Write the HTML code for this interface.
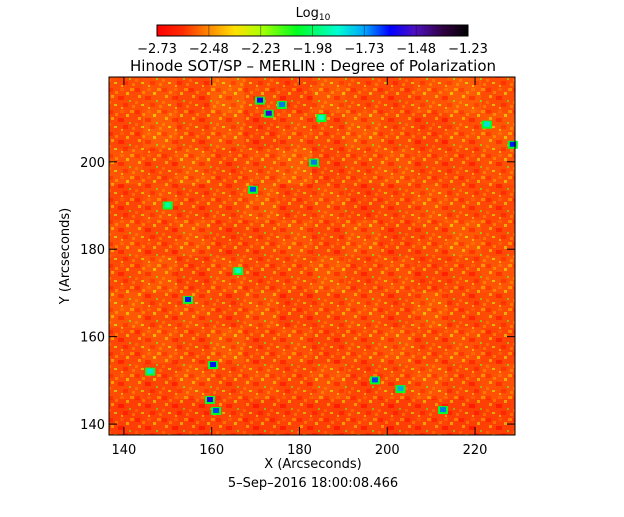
<!DOCTYPE html>
<html><head><meta charset="utf-8"><style>
body{margin:0;background:#fff;width:624px;height:512px;overflow:hidden}
text{font-family:"DejaVu Sans","Liberation Sans",sans-serif;fill:#000}
</style></head><body>
<svg id="chart" width="624" height="512">
<defs>
<linearGradient id="cb" x1="0" x2="1">
<stop offset="0" stop-color="#ff0000"/><stop offset="0.08" stop-color="#ff2a00"/><stop offset="0.17" stop-color="#ff8c00"/><stop offset="0.25" stop-color="#ffe000"/><stop offset="0.33" stop-color="#b0ff00"/><stop offset="0.45" stop-color="#00ff20"/><stop offset="0.58" stop-color="#00ffd0"/><stop offset="0.67" stop-color="#00a0ff"/><stop offset="0.75" stop-color="#0000ff"/><stop offset="0.83" stop-color="#5010c0"/><stop offset="0.92" stop-color="#300040"/><stop offset="1" stop-color="#000000"/>
</linearGradient>
<pattern id="tex" width="27" height="22" patternUnits="userSpaceOnUse">
<rect width="27" height="22" fill="#ff4a08"/>
<rect x="0" y="0" width="5" height="4" fill="#ff2000"/><rect x="7" y="3" width="3" height="3" fill="#ff9a00"/>
<rect x="3" y="7" width="3" height="3" fill="#ffd000"/><rect x="12" y="0" width="4" height="3" fill="#ff7000"/>
<rect x="10" y="8" width="6" height="4" fill="#ff1000"/><rect x="0" y="13" width="3" height="3" fill="#ff8000"/>
<rect x="18" y="4" width="3" height="3" fill="#e0f000"/><rect x="21" y="12" width="2" height="2" fill="#60ff20"/>
<rect x="6" y="16" width="3" height="2" fill="#c8ff00"/><rect x="15" y="15" width="5" height="4" fill="#ff2000"/>
<rect x="22" y="0" width="4" height="3" fill="#ffb000"/><rect x="24" y="17" width="3" height="3" fill="#ff9000"/>
<rect x="13" y="19" width="2" height="2" fill="#ffe000"/>
</pattern>
</defs>
<g id="cbar"></g>
<text x="313" y="17" text-anchor="middle" font-size="13">Log<tspan font-size="9" dy="3">10</tspan></text>
<text x="313" y="71" text-anchor="middle" font-size="15">Hinode SOT/SP – MERLIN : Degree of Polarization</text>
<g id="plot"></g>
<text x="313" y="468" text-anchor="middle" font-size="13">X (Arcseconds)</text>
<text x="313" y="487" text-anchor="middle" font-size="13">5–Sep–2016 18:00:08.466</text>
<text transform="translate(69,256) rotate(-90)" text-anchor="middle" font-size="13">Y (Arcseconds)</text>
</svg>
<script>
const cbLabels=["-2.73","-2.48","-2.23","-1.98","-1.73","-1.48","-1.23"];
const xTicks=[140,160,180,200,220];
const yTicks=[140,160,180,200];
// coarse background levels (log10 DoP), rows top->bottom
const gridVals=[
[-2.60,-2.58,-2.62,-2.55,-2.60,-2.63,-2.57,-2.60,-2.62,-2.58,-2.56,-2.60],
[-2.62,-2.56,-2.60,-2.58,-2.64,-2.59,-2.61,-2.57,-2.60,-2.63,-2.59,-2.57],
[-2.58,-2.61,-2.57,-2.62,-2.59,-2.56,-2.63,-2.60,-2.58,-2.61,-2.62,-2.59],
[-2.63,-2.59,-2.62,-2.60,-2.57,-2.62,-2.59,-2.64,-2.61,-2.58,-2.60,-2.62],
[-2.59,-2.62,-2.58,-2.63,-2.61,-2.58,-2.62,-2.58,-2.63,-2.60,-2.57,-2.61],
[-2.61,-2.57,-2.63,-2.59,-2.62,-2.60,-2.57,-2.62,-2.59,-2.63,-2.61,-2.58],
[-2.57,-2.60,-2.59,-2.62,-2.58,-2.63,-2.60,-2.59,-2.62,-2.57,-2.62,-2.60],
[-2.62,-2.58,-2.61,-2.57,-2.62,-2.59,-2.63,-2.60,-2.58,-2.61,-2.59,-2.63],
[-2.60,-2.63,-2.58,-2.61,-2.59,-2.62,-2.58,-2.63,-2.60,-2.58,-2.62,-2.59],
[-2.66,-2.64,-2.66,-2.63,-2.66,-2.64,-2.65,-2.63,-2.66,-2.64,-2.66,-2.65]];
// strong polarization patches: x, y (arcsec), value
const patchX=[171,173,176,169.4,154.6,160.3,159.6,161,197.2,183.3,228.6,222.7,212.7,203,166,185,146,150];
const patchY=[214,211,213,193.6,168.4,153.5,145.5,143,150,199.8,203.9,208.5,143.2,148,175,210,152,190];
const patchV=[-1.45,-1.40,-1.6,-1.55,-1.5,-1.5,-1.45,-1.55,-1.55,-1.6,-1.5,-1.7,-1.6,-1.65,-1.75,-1.75,-1.7,-1.8];
const ns="http://www.w3.org/2000/svg";
const X0=109,X1=515,Y0=77,Y1=435,xmin=136.6,xmax=229.1,ymin=137.5,ymax=219.4;
const sx=v=>X0+(v-xmin)/(xmax-xmin)*(X1-X0);
const sy=v=>Y1-(v-ymin)/(ymax-ymin)*(Y1-Y0);
const stops=[[-2.73,[255,0,0]],[-2.6,[255,80,0]],[-2.48,[255,200,0]],[-2.23,[170,255,0]],[-1.98,[0,255,40]],[-1.73,[0,255,210]],[-1.48,[0,0,255]],[-1.35,[80,16,190]],[-1.23,[0,0,0]]];
function col(v){if(v<=stops[0][0])return "rgb(255,0,0)";for(let i=1;i<stops.length;i++){if(v<=stops[i][0]){const a=stops[i-1],b=stops[i],t=(v-a[0])/(b[0]-a[0]);return "rgb("+a[1].map((c,k)=>Math.round(c+(b[1][k]-c)*t)).join(",")+")";}}return "#000";}
function mk(tag,at,parent){const e=document.createElementNS(ns,tag);for(const k in at)e.setAttribute(k,at[k]);parent.appendChild(e);return e;}
const cb=document.getElementById('cbar');
mk('rect',{x:157,y:25,width:311,height:11,fill:'url(#cb)',stroke:'#000'},cb);
cbLabels.forEach((l,i)=>{const x=157+i*311/6;
 const tk=mk('line',{x1:x,x2:x,y1:25,y2:36,stroke:'#000','stroke-opacity':0.4},cb);
 
 
 const t=mk('text',{x:x,y:53,'text-anchor':'middle','font-size':'13'},cb);t.textContent=l.replace('-','−');
 
 });
const p=document.getElementById('plot');
const hm=mk('g',{},p);


const R=gridVals.length,C=gridVals[0].length,cw=(X1-X0)/C,ch=(Y1-Y0)/R;
gridVals.forEach((row,r)=>row.forEach((v,c)=>{const e=mk('rect',{x:X0+c*cw,y:Y0+r*ch,width:cw+0.5,height:ch+0.5,fill:col(v)},hm);
 
 }));
mk('rect',{x:X0,y:Y0,width:X1-X0,height:Y1-Y0,fill:'url(#tex)',opacity:0.6},hm);
patchV.forEach((v,i)=>{const cx=sx(patchX[i]),cy=sy(patchY[i]);
 const g=mk('rect',{x:cx-5,y:cy-4,width:10,height:8,fill:col(-1.98)},hm);
 
 
 const e=mk('rect',{x:cx-3,y:cy-3,width:6,height:5,fill:col(v)},hm);
 
 });
mk('rect',{x:X0,y:Y0,width:X1-X0,height:Y1-Y0,fill:'none',stroke:'#000'},p);
xTicks.forEach(v=>{const x=sx(v);
 mk('line',{x1:x,x2:x,y1:Y1,y2:Y1-8,stroke:'#000'},p);mk('line',{x1:x,x2:x,y1:Y0,y2:Y0+8,stroke:'#000'},p);
 const t=mk('text',{x:x,y:Y1+19,'text-anchor':'middle','font-size':'13'},p);t.textContent=v;
 
 });
yTicks.forEach(v=>{const y=sy(v);
 mk('line',{x1:X0,x2:X0+8,y1:y,y2:y,stroke:'#000'},p);mk('line',{x1:X1,x2:X1-8,y1:y,y2:y,stroke:'#000'},p);
 const t=mk('text',{x:X0-4,y:y+5,'text-anchor':'end','font-size':'13'},p);t.textContent=v;
 
 });
</script>
</body></html>
